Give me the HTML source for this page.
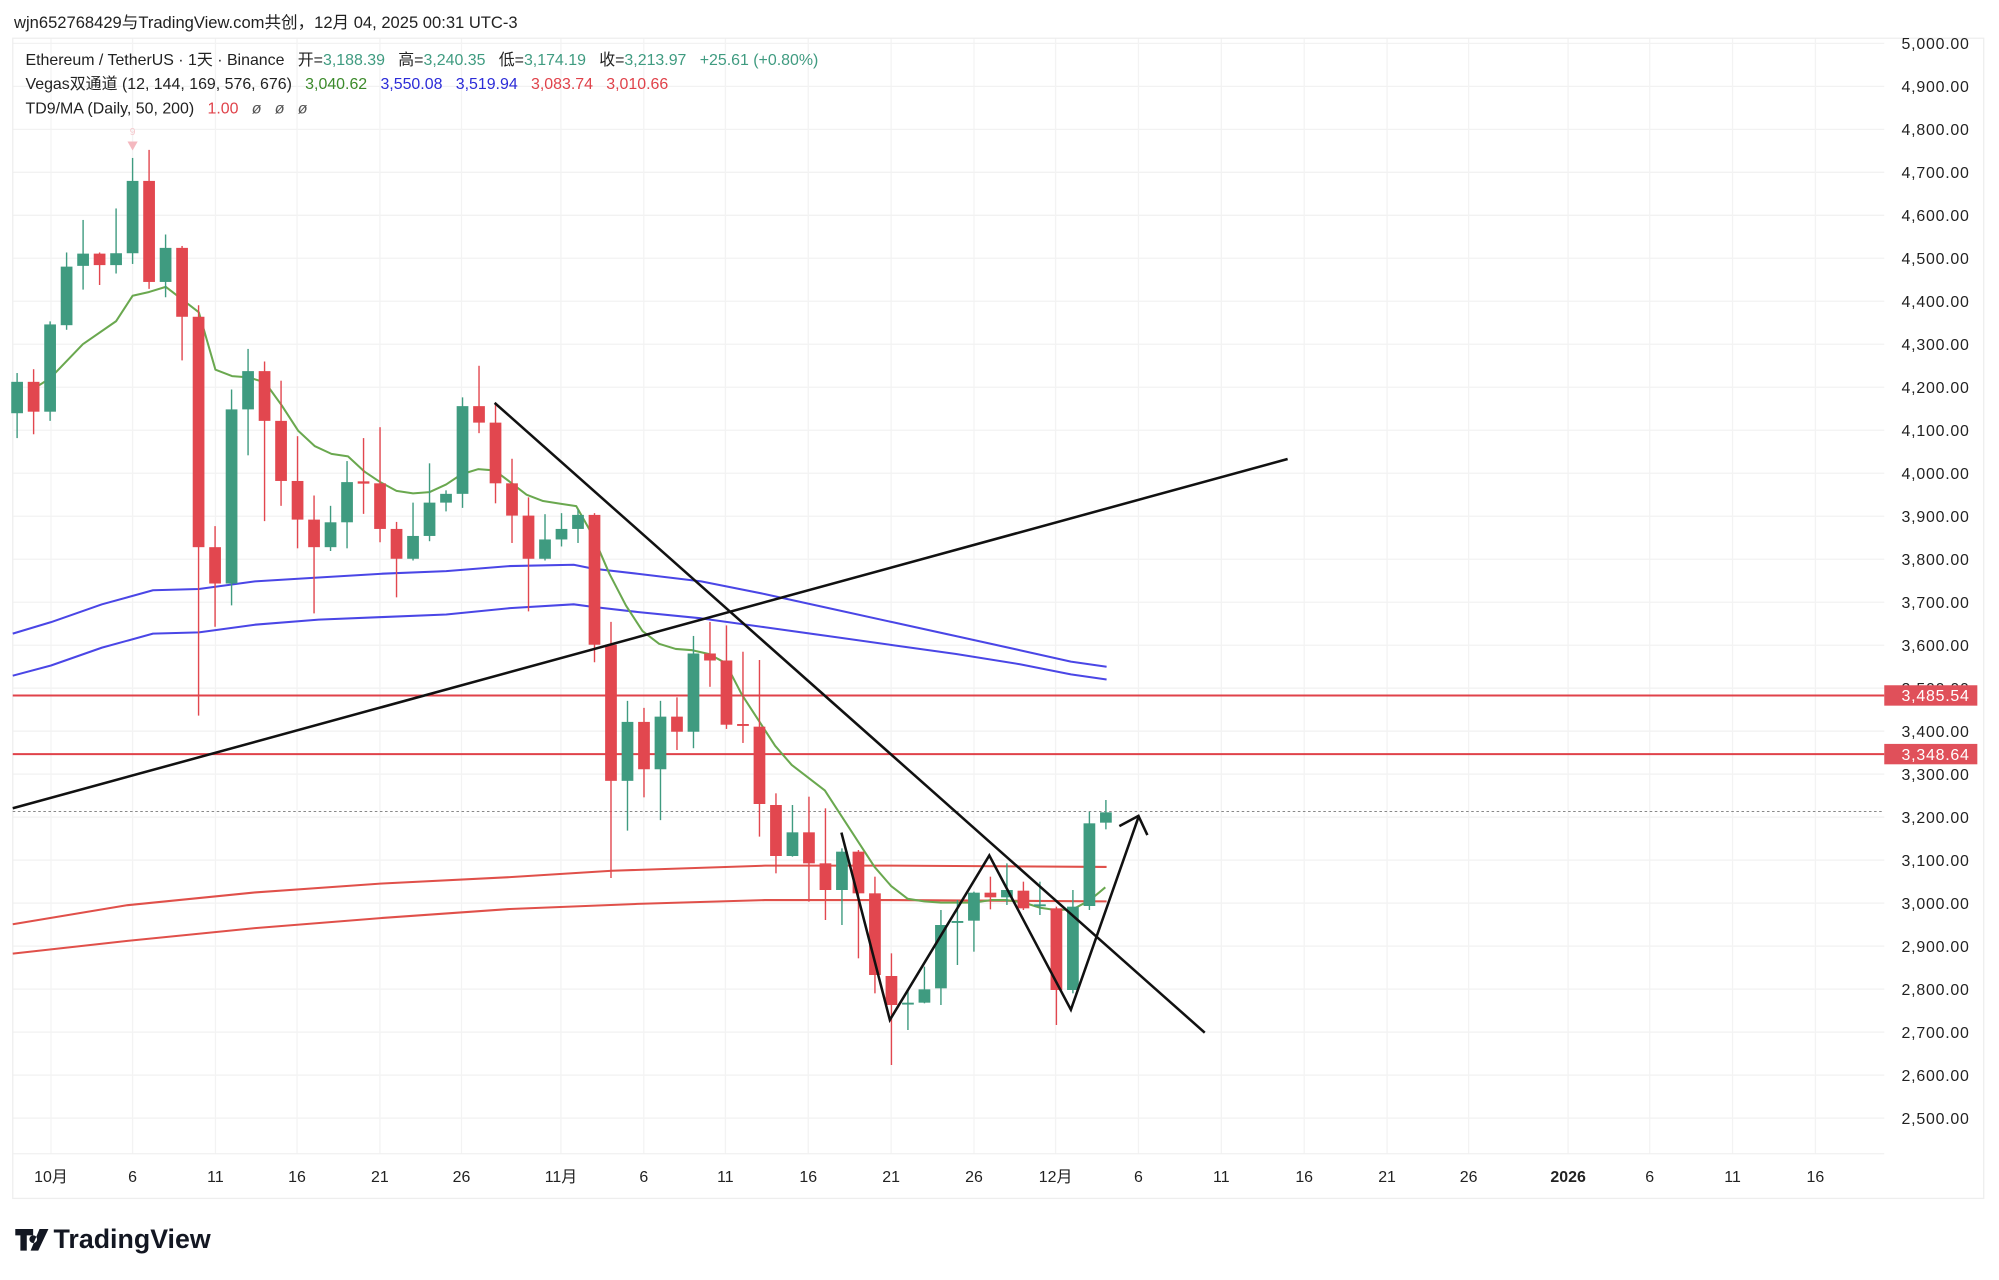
<!DOCTYPE html>
<html><head><meta charset="utf-8"><style>
html,body{margin:0;padding:0;background:#fff;width:1999px;height:1280px;overflow:hidden}
svg{display:block}
text{font-family:"Liberation Sans","Noto Sans CJK SC",sans-serif;white-space:pre}
</style></head><body>
<svg id="s" width="1999" height="1280" viewBox="0 0 1568 1004" preserveAspectRatio="none" xmlns="http://www.w3.org/2000/svg" xml:space="preserve">
<rect x="0" y="0" width="1568" height="1004" fill="#fff"/>
<g id="grid"></g>
<rect x="10" y="30" width="1546" height="910" fill="none" stroke="#eeeeee" stroke-width="1"/>
<line x1="10" y1="905" x2="1478" y2="905" stroke="#f0f0f0"/>
<g id="ind"></g>
<g id="candles"></g>
<g id="draw"></g>
<g id="labels"></g>
<text x="11" y="22" font-size="13" fill="#222">wjn652768429与TradingView.com共创，12月 04, 2025 00:31 UTC-3</text>
<text x="20" y="51" font-size="12.5" fill="#222" xml:space="preserve">Ethereum / TetherUS · 1天 · Binance   开=<tspan fill="#3f9b80">3,188.39</tspan>   高=<tspan fill="#3f9b80">3,240.35</tspan>   低=<tspan fill="#3f9b80">3,174.19</tspan>   收=<tspan fill="#3f9b80">3,213.97</tspan>   <tspan fill="#3f9b80">+25.61 (+0.80%)</tspan></text>
<text x="20" y="70" font-size="12.5" fill="#222" xml:space="preserve">Vegas双通道 (12, 144, 169, 576, 676)   <tspan fill="#3b8a2a">3,040.62</tspan>   <tspan fill="#2b2bd8">3,550.08</tspan>   <tspan fill="#2b2bd8">3,519.94</tspan>   <tspan fill="#e0424a">3,083.74</tspan>   <tspan fill="#e0424a">3,010.66</tspan></text>
<text x="20" y="89" font-size="12.5" fill="#222" xml:space="preserve">TD9/MA (Daily, 50, 200)   <tspan fill="#e0424a">1.00</tspan>   <tspan fill="#555" font-style="italic">ø   ø   ø</tspan></text>
<polygon points="100,111 108,111 104,118" fill="#f4b8bf"/>
<text x="104" y="106" font-size="8" fill="#f4c8cc" text-anchor="middle">9</text>
<g transform="translate(12,962)">
<path d="M0 2h14v5h-5v12h-5v-12h-4z M14 7a3 3 0 1 0 0.1 0z M19 2h7l-8 17h-6z" fill="#131722"/>
<text x="30" y="17" font-size="21" font-weight="bold" fill="#131722">TradingView</text>
</g>
</svg>
<script>
const NS="http://www.w3.org/2000/svg";
function el(p,t,a,txt){const e=document.createElementNS(NS,t);for(const k in a)e.setAttribute(k,a[k]);if(txt!==undefined)e.textContent=txt;p.appendChild(e);return e;}
const Y=p=>34+(5000-p)*0.3372;
const X=d=>39.3+d*12.94;
const grid=document.getElementById('grid'),labels=document.getElementById('labels');
for(let p=2500;p<=5000;p+=100){const y=Y(p);el(grid,'line',{x1:10,y1:y,x2:1478,y2:y,stroke:'#f2f2f2','stroke-width':1});
 el(labels,'text',{x:1545,y:y+4.5,'font-size':12.5,fill:'#222','text-anchor':'end','letter-spacing':0.6},p.toLocaleString('en-US',{minimumFractionDigits:2}));}
const ticks=[[40,'10月'],[104,'6'],[169,'11'],[233,'16'],[298,'21'],[362,'26'],[440,'11月'],[505,'6'],[569,'11'],[634,'16'],[699,'21'],[764,'26'],[828,'12月'],[893,'6'],[958,'11'],[1023,'16'],[1088,'21'],[1152,'26'],[1230,'2026'],[1294,'6'],[1359,'11'],[1424,'16']];
ticks.forEach(([x,t])=>{el(grid,'line',{x1:x,y1:30,x2:x,y2:905,stroke:'#f3f3f3','stroke-width':1});
 el(labels,'text',{x:x,y:927,'font-size':12.5,fill:'#222','text-anchor':'middle','font-weight':t==='2026'?'bold':'normal'},t);});
const ind=document.getElementById('ind');
function pl(pts,c,w){el(ind,'polyline',{points:pts.map(p=>p.join(',')).join(' '),fill:'none',stroke:c,'stroke-width':w||1.6,'stroke-linejoin':'round'});}
el(ind,'line',{x1:10,y1:545.5,x2:1478,y2:545.5,stroke:'#e0424a','stroke-width':1.6});
el(ind,'line',{x1:10,y1:591.5,x2:1478,y2:591.5,stroke:'#e0424a','stroke-width':1.6});
el(ind,'line',{x1:10,y1:636.5,x2:1478,y2:636.5,stroke:'#888','stroke-width':0.8,'stroke-dasharray':'2,2'});
pl([[10,497],[40,488],[80,474],[120,463],[156,462],[200,456],[250,453],[300,450],[350,448],[400,444],[450,443],[465,446],[500,450],[550,456],[600,466],[650,477],[700,488],[750,499],[800,510],[840,519],[868,523]],'#4a46e6');
pl([[10,530],[40,522],[80,508],[120,497],[156,496],[200,490],[250,486],[300,484],[350,482],[400,477],[450,474],[465,476],[500,480],[550,485],[600,492],[650,499],[700,506],[750,513],[800,521],[840,529],[868,533]],'#4a46e6');
pl([[10,725],[100,710],[200,700],[300,693],[400,688],[480,683],[600,679],[700,679],[868,680]],'#e0504a');
pl([[10,748],[100,738],[200,728],[300,720],[400,713],[500,709],[600,706],[700,706],[868,707]],'#e0504a');
pl([[26,305],[39,297],[65,270],[91,252],[104,232],[117,229],[130,225],[143,235],[156,245],[169,290],[182,295],[195,296],[208,300],[221,318],[234,338],[247,350],[260,356],[273,358],[286,370],[298,378],[311,385],[324,387],[337,386],[350,380],[362,372],[375,368],[388,369],[400,378],[413,388],[426,393],[439,395],[452,397],[465,420],[478,450],[491,475],[504,495],[517,505],[530,509],[543,510],[556,513],[569,520],[582,545],[595,565],[608,585],[621,600],[634,610],[647,620],[660,640],[673,660],[686,680],[699,695],[712,705],[725,707],[738,708],[751,708],[764,708],[777,706],[790,706],[803,708],[816,712],[829,714],[842,713],[855,706],[867,696]],'#6aa84f',1.6);
const G='#3f9b80',R='#e2474f';
const z4=v=>101.97+v*0.3002, z5=v=>274.53+v*0.2752, z6=v=>(600+v/3)/1.2749;
const A=[[-2,'g',658,740,635,805],[-1,'r',658,736,625,795],[0,'g',508,736,500,760],[1,'g',357,510,320,522],[2,'g',323,355,235,417],[3,'r',323,353,320,405],[4,'g',322,353,205,375],[5,'g',133,322,73,350],[6,'r',133,397,52,415],[7,'g',308,397,273,437],[8,'r',308,488,303,602],[9,'r',488,1090,458,1530],[10,'r',1090,1185,1035,1298],[11,'g',730,1185,678,1242],[12,'g',630,730,572,850],[13,'r',630,760,605,1022],[14,'r',760,917,655,982],[15,'r',917,1018,800,1093],[16,'r',1018,1090,955,1263],[17,'g',1025,1090,982,1100],[18,'g',920,1025,865,1093],[19,'r',918,924,805,1003]];
const B=[[20,'r',380,510,220,548],[21,'r',510,595,490,705],[22,'g',530,595,435,600],[23,'g',435,530,323,545],[24,'g',410,435,400,460],[25,'g',160,410,135,450],[26,'r',160,207,45,237],[27,'r',207,380,150,437],[28,'r',380,472,310,550],[29,'r',472,595,420,745],[30,'g',540,595,468,600],[31,'g',510,540,465,560],[32,'g',470,510,455,550],[33,'r',470,840,465,890],[34,'r',840,1228,775,1505],[35,'g',1060,1228,1000,1370],[36,'r',1060,1195,1020,1275],[37,'g',1045,1195,1000,1340],[38,'r',1045,1088,990,1140],[39,'g',865,1088,815,1135],[40,'r',865,885,775,960],[41,'r',885,1068,785,1080],[42,'r',1066,1070,860,1120]];
const C=[[43,'r',380,612,180,710],[44,'r',615,768,580,820],[45,'g',697,768,615,770],[46,'r',697,790,590,905],[47,'r',790,870,625,960],[48,'g',755,870,745,975],[49,'r',755,880,750,1075],[50,'r',880,1125,830,1180],[51,'r',1128,1215,1060,1395],[52,'g',1208,1212,1170,1290],[53,'g',1168,1208,1100,1210],[54,'g',975,1165,930,1215],[55,'g',963,967,900,1095],[56,'g',878,962,875,1055],[57,'r',878,892,830,928],[58,'g',870,892,790,915],[59,'r',872,925,845,930],[60,'g',913,917,845,945],[61,'r',925,1170,920,1275],[62,'g',920,1170,870,1180],[63,'g',670,918,635,930],[64,'g',637,668,600,688]];
const cg=document.getElementById('candles');
function draw(arr,f){arr.forEach(([d,c,t,b,h,l])=>{const x=X(d),col=c==='g'?G:R;
 el(cg,'line',{x1:x,y1:f(h),x2:x,y2:f(l),stroke:col,'stroke-width':1.1});
 const yt=f(t),yb=f(b);el(cg,'rect',{x:x-4.6,y:yt,width:9.2,height:Math.max(yb-yt,1.5),fill:col});});}
draw(A,z4);draw(B,z5);draw(C,z6);
const dr=document.getElementById('draw');
function ln(pts){el(dr,'polyline',{points:pts.map(p=>p.join(',')).join(' '),fill:'none',stroke:'#111','stroke-width':2,'stroke-linejoin':'miter'});}
ln([[10,634],[1010,360]]);
ln([[388,316],[945,810]]);
ln([[660,653],[698,800],[776,671],[840,792],[893,641]]);
ln([[878,648],[893,640],[900,655]]);
[[545.5,'3,485.54'],[591.5,'3,348.64']].forEach(([y,t])=>{el(labels,'rect',{x:1478,y:y-8,width:73,height:16,fill:'#e0505a'});
 el(labels,'text',{x:1545,y:y+4.5,'font-size':12.5,fill:'#fff','text-anchor':'end','letter-spacing':0.6},t);});
</script>
</body></html>
